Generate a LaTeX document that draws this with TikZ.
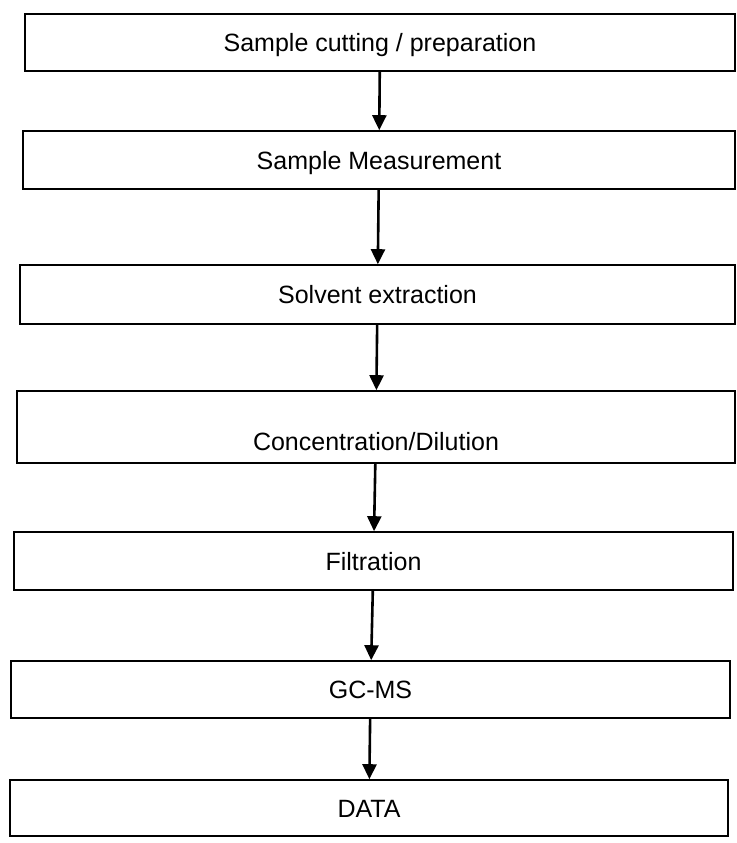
\documentclass[tikz,border=0pt]{standalone}
\usepackage{fontspec}
\setmainfont{Liberation Sans}
\usetikzlibrary{arrows.meta}

\begin{document}
\begin{tikzpicture}[x=1pt, y=-1pt,
    stage/.style={draw, line width=1.6pt, inner sep=0pt, text height=18pt, text depth=0pt, font=\fontsize{25}{30}\selectfont}]
    \useasboundingbox (0,0) rectangle (736,843);

    \node[stage, minimum width=710pt, minimum height=57pt] (cut) at (380,42.5) {Sample cutting / preparation};
    \node[stage, minimum width=712pt, minimum height=58pt] (meas) at (379,160) {Sample Measurement};
    \node[stage, minimum width=715pt, minimum height=59pt] (solv) at (377.5,294.5) {Solvent extraction};
    \node[stage, minimum width=718pt, minimum height=72pt, text height=46pt] (conc) at (376,427) {Concentration/Dilution};
    \node[stage, minimum width=719pt, minimum height=58pt] (filt) at (373.5,561) {Filtration};
    \node[stage, minimum width=719pt, minimum height=57pt] (gcms) at (370.5,689.5) {GC-MS};
    \node[stage, minimum width=718pt, minimum height=56pt] (data) at (369,808) {DATA};

    \begin{scope}[line width=2.6pt, -{Triangle[width=14pt,length=15pt]}]
      \draw (cut) -- (meas);
      \draw (meas) -- (solv);
      \draw (solv) -- (conc);
      \draw (conc) -- (filt);
      \draw (filt) -- (gcms);
      \draw (gcms) -- (data);
    \end{scope}
  \end{tikzpicture}
\end{document}
